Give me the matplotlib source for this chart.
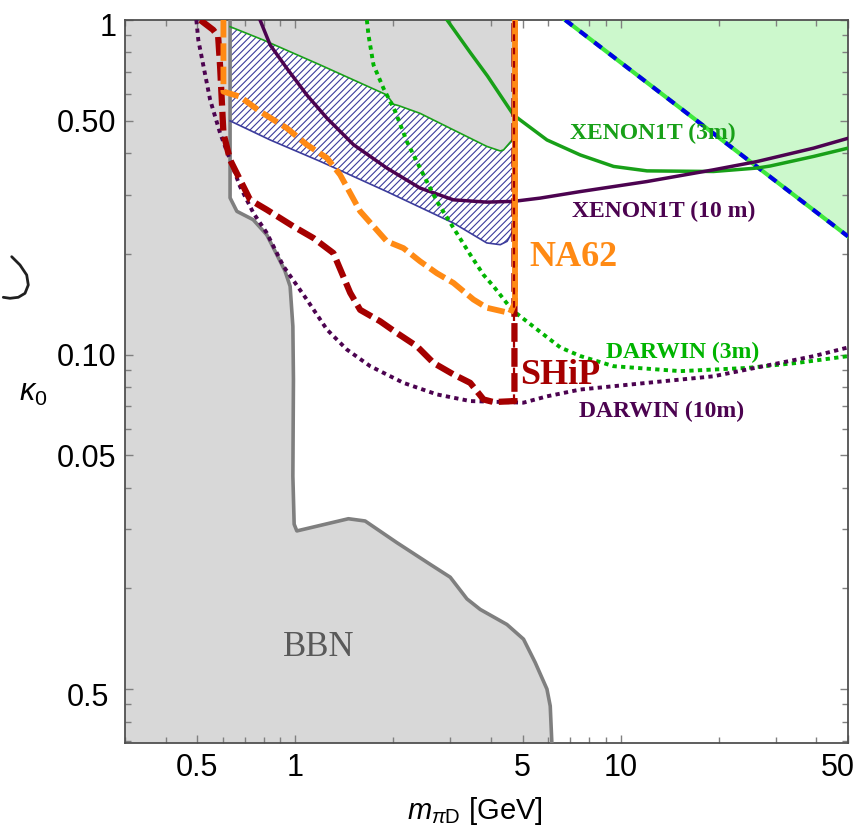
import matplotlib
matplotlib.use("Agg")
import matplotlib.pyplot as plt
import matplotlib.transforms as mtransforms
from matplotlib.lines import Line2D
from matplotlib.ticker import LogLocator, NullFormatter, FixedLocator, FixedFormatter
import numpy as np

plt.rcParams["font.family"] = ["Liberation Sans", "DejaVu Sans"]
plt.rcParams["mathtext.fontset"] = "custom"
plt.rcParams["mathtext.rm"] = "Liberation Sans"
plt.rcParams["mathtext.it"] = "Liberation Sans:italic"
plt.rcParams["hatch.linewidth"] = 0.8

M_MIN, M_MAX = 0.3, 50.0
K_MIN, K_MAX = 0.0069, 1.0

# BBN exclusion boundary
bbn_m = [0.631, 0.631, 0.662, 0.743, 0.818, 0.878, 0.93, 0.965, 0.984, 0.988, 0.984, 0.993,
         1.012, 1.458, 1.641, 2.054, 2.60, 2.996, 3.373, 3.705, 4.475, 5.033, 5.468, 5.94,
         6.08, 6.15]
bbn_k = [1.0, 0.294, 0.268, 0.253, 0.228, 0.199, 0.178, 0.160, 0.1215, 0.0842, 0.0433, 0.0311,
         0.0297, 0.0323, 0.0318, 0.0274, 0.0236, 0.0216, 0.0186, 0.0173, 0.0156, 0.0141, 0.0120,
         0.0100, 0.0089, 0.0069]

# hatched band: upper (green) and lower (blue) edges
band_top_m = [0.631, 0.799, 1.194, 1.913, 2.006, 2.076, 2.42, 3.07, 3.88, 4.27, 4.37, 4.69]
band_top_k = [0.955, 0.871, 0.734, 0.597, 0.56, 0.555, 0.526, 0.469, 0.419, 0.406, 0.409, 0.443]
band_low_m = [0.631, 0.838, 1.194, 1.913, 3.07, 3.88, 4.27, 4.48, 4.69]
band_low_k = [0.4995, 0.438, 0.378, 0.307, 0.247, 0.2156, 0.213, 0.218, 0.236]

# NA62 reach
na62_m = [0.602, 0.602, 0.677, 0.78, 0.943, 1.086, 1.252, 1.375, 1.584, 1.913, 2.152, 2.42,
          2.727, 3.066, 3.532, 3.882, 4.58, 4.69, 4.75, 4.75]
na62_k = [1.0, 0.611, 0.59, 0.533, 0.475, 0.424, 0.387, 0.3445, 0.268, 0.218, 0.208, 0.19,
          0.175, 0.1637, 0.146, 0.138, 0.133, 0.14, 0.143, 1.0]

# SHiP reach
ship_m = [0.511, 0.56, 0.58, 0.588, 0.595, 0.602, 0.631, 0.677, 0.727, 0.818, 0.988, 1.138,
          1.311, 1.359, 1.476, 1.584, 1.825, 2.054, 2.366, 2.662, 3.066, 3.451, 3.793, 4.07,
          4.72, 4.72]
ship_k = [1.0, 0.934, 0.892, 0.726, 0.577, 0.459, 0.382, 0.333, 0.29, 0.271, 0.2415, 0.223,
          0.201, 0.185, 0.153, 0.136, 0.1257, 0.116, 0.1059, 0.0944, 0.0872, 0.0823, 0.0734,
          0.0721, 0.0726, 1.0]

# direct detection projections
darwin10_m = [0.497, 0.504, 0.523, 0.548, 0.588, 0.631, 0.677, 0.744, 0.818, 0.921, 1.086,
              1.252, 1.442, 1.701, 2.152, 2.727, 3.451, 4.37, 5.03, 5.94, 7.52, 12.06, 19.3,
              27.5, 39.2, 50.0]
darwin10_k = [1.0, 0.871, 0.726, 0.577, 0.459, 0.382, 0.318, 0.265, 0.231, 0.1835, 0.146,
              0.1188, 0.1035, 0.0923, 0.0823, 0.076, 0.0726, 0.0721, 0.0718, 0.075, 0.0786,
              0.0823, 0.0861, 0.0923, 0.0989, 0.105]

darwin3_m = [1.661, 1.68, 1.741, 1.868, 2.03, 2.205, 2.42, 2.727, 3.066, 3.451, 3.793, 4.07,
             4.64, 5.53, 6.53, 7.52, 9.52, 15.26, 24.5, 34.9, 50.0]
darwin3_k = [1.0, 0.902, 0.734, 0.625, 0.533, 0.433, 0.361, 0.287, 0.239, 0.199, 0.173, 0.160,
             0.136, 0.119, 0.105, 0.099, 0.0923, 0.0892, 0.0912, 0.0944, 0.0989]

xenon10_m = [0.78, 0.838, 0.943, 1.086, 1.252, 1.511, 1.913, 2.42, 3.066, 3.882, 4.69, 5.66,
             7.52, 12.06, 19.3, 26.3, 39.2, 50.0]
xenon10_k = [1.0, 0.842, 0.717, 0.597, 0.509, 0.424, 0.361, 0.3145, 0.290, 0.2855, 0.287,
             0.2935, 0.307, 0.329, 0.3566, 0.3776, 0.414, 0.443]

xenon3_m = [2.93, 3.45, 3.9, 4.69, 5.94, 7.52, 9.52, 12.06, 19.3, 26.3, 28.8, 39.2, 50.0]
xenon3_k = [1.0, 0.80, 0.68, 0.52, 0.438, 0.395, 0.365, 0.354, 0.3525, 0.361, 0.366, 0.391,
            0.414]

# excluded wedge at large mass
wedge_m = [6.76, 50.0]
wedge_k = [1.0, 0.2255]

x_ticks = [0.5, 1, 5, 10, 50]
x_tick_labels = ["0.5", "1", "5", "10", "50"]
y_ticks = [0.01, 0.05, 0.1, 0.5, 1]
y_tick_labels = ["0.5", "0.05", "0.10", "0.50", "1"]

GREY_FILL = "#d8d8d8"
ORANGE = "#ff8a14"
DARKRED = "#a50000"
PURPLE = "#4c0350"
GREEN = "#18a018"
DGREEN = "#00b400"
HATCH = "#3c3c9c"

fig = plt.figure(figsize=(8.63, 8.31), dpi=100)
ax = fig.add_axes([125 / 863, 1 - 743 / 831, 723 / 863, 723 / 831])
ax.set_xscale("log")
ax.set_yscale("log")
ax.set_xlim(M_MIN, M_MAX)
ax.set_ylim(K_MIN, K_MAX)

# BBN region
ax.fill([M_MIN] + bbn_m + [M_MIN], [K_MAX] + bbn_k + [K_MIN], color=GREY_FILL, lw=0, zorder=1)
# region above the band, left of NA62
ax.fill(band_top_m + [band_top_m[-1], band_top_m[0]], band_top_k + [K_MAX, K_MAX],
        color=GREY_FILL, lw=0, zorder=1)
ax.plot(bbn_m, bbn_k, color="#7f7f7f", lw=2.6, zorder=3)

# hatched band
ax.fill(band_top_m + band_low_m[::-1], band_top_k + band_low_k[::-1],
        facecolor="white", edgecolor=HATCH, hatch="/////", lw=0, zorder=2)
ax.plot(band_top_m, band_top_k, color=GREEN, lw=1.2, zorder=3)
ax.plot(band_low_m, band_low_k, color=HATCH, lw=1.2, zorder=3)

# large-mass wedge
ax.fill(wedge_m + [M_MAX], wedge_k + [K_MAX], color="#ccf8cc", lw=0, zorder=1)
ax.plot(wedge_m, wedge_k, color="#3ee83e", lw=3.0, zorder=4)
ax.plot(wedge_m, wedge_k, color="#0000e6", lw=3.0, dashes=(2.2, 2.2), zorder=4)

# XENON1T / DARWIN
ax.plot(xenon3_m, xenon3_k, color=GREEN, lw=2.5, zorder=4)
ax.plot(xenon10_m, xenon10_k, color=PURPLE, lw=2.5, zorder=4)
ax.plot(darwin3_m, darwin3_k, color=DGREEN, lw=2.8, dashes=(1.1, 1.1), zorder=4)
ax.plot(darwin10_m, darwin10_k, color=PURPLE, lw=2.8, dashes=(1.1, 1.1), zorder=4)

# SHiP and NA62
ax.plot(ship_m, ship_k, color=DARKRED, lw=4.5, dashes=(3.0, 1.0), zorder=5)
ax.plot(na62_m[:-1], na62_k[:-1], color=ORANGE, lw=4.2, dashes=(3.0, 1.0), zorder=6)
ax.plot(na62_m[-2:], na62_k[-2:], color=ORANGE, lw=4.2, zorder=6)
ax.plot(ship_m[-2:], ship_k[-2:], color=DARKRED, lw=1.6, dashes=(3.0, 3.0), zorder=7)

serif = dict(family="Liberation Serif", fontweight="bold", ha="center", va="center", zorder=8)
ax.text(12.56, 0.459, "XENON1T (3m)", color=GREEN, fontsize=17, **serif)
ax.text(13.6, 0.268, "XENON1T (10 m)", color=PURPLE, fontsize=17, **serif)
ax.text(15.5, 0.1014, "DARWIN (3m)", color=DGREEN, fontsize=17, **serif)
ax.text(13.4, 0.0676, "DARWIN (10m)", color=PURPLE, fontsize=17, **serif)
ax.text(7.17, 0.195, "NA62", color=ORANGE, fontsize=26, **serif)
ax.text(6.53, 0.0866, "SHiP", color=DARKRED, fontsize=26, **serif)
ax.text(1.185, 0.01335, "BBN", color="#595959", fontsize=25, family="Liberation Serif",
        ha="center", va="center", zorder=8)

# axes styling
ax.xaxis.set_major_locator(FixedLocator(x_ticks))
ax.xaxis.set_major_formatter(FixedFormatter(x_tick_labels))
ax.yaxis.set_major_locator(FixedLocator(y_ticks))
ax.yaxis.set_major_formatter(FixedFormatter(y_tick_labels))
for axis in (ax.xaxis, ax.yaxis):
    axis.set_minor_locator(LogLocator(base=10, subs=np.arange(2, 10), numticks=20))
    axis.set_minor_formatter(NullFormatter())
ax.tick_params(which="both", direction="in", top=True, right=True, color="#808080",
               labelsize=22, width=1.0)
ax.tick_params(which="major", length=5.5)
ax.tick_params(which="minor", length=4)
ax.tick_params(axis="y", pad=6)
ax.tick_params(axis="x", pad=7)
for sp in ax.spines.values():
    sp.set_color("#505050")
    sp.set_linewidth(1.3)


def nudge(label, dx_px, dy_px):
    shift = mtransforms.ScaledTranslation(dx_px / 100, dy_px / 100, fig.dpi_scale_trans)
    label.set_transform(label.get_transform() + shift)


nudge(ax.get_xticklabels()[-1], -10, 0)
ylabels = ax.get_yticklabels()
nudge(ylabels[-1], 0, -5)
nudge(ylabels[0], -8, -5)

ax.set_xlabel(r"$m_{\pi\mathrm{D}}$ [GeV]", fontsize=21, va="top")
ax.xaxis.set_label_coords(0.484, -0.072)
ax.set_ylabel(r"$\kappa_0$", fontsize=22, rotation=0, va="center", ha="center")
ax.yaxis.set_label_coords(-0.127, 0.484)

# stray pen stroke at the left margin
stroke_x = np.array([11.7, 20, 26.7, 28.3, 25, 18.3, 10, 3.3])
stroke_y = np.array([256.7, 265, 275, 285, 293.3, 297.3, 298.3, 297.3])
fig.add_artist(Line2D(stroke_x / 863, 1 - stroke_y / 831, transform=fig.transFigure,
                      color="#202020", lw=2.0, solid_capstyle="round"))

fig.savefig("out.png", dpi=100)
